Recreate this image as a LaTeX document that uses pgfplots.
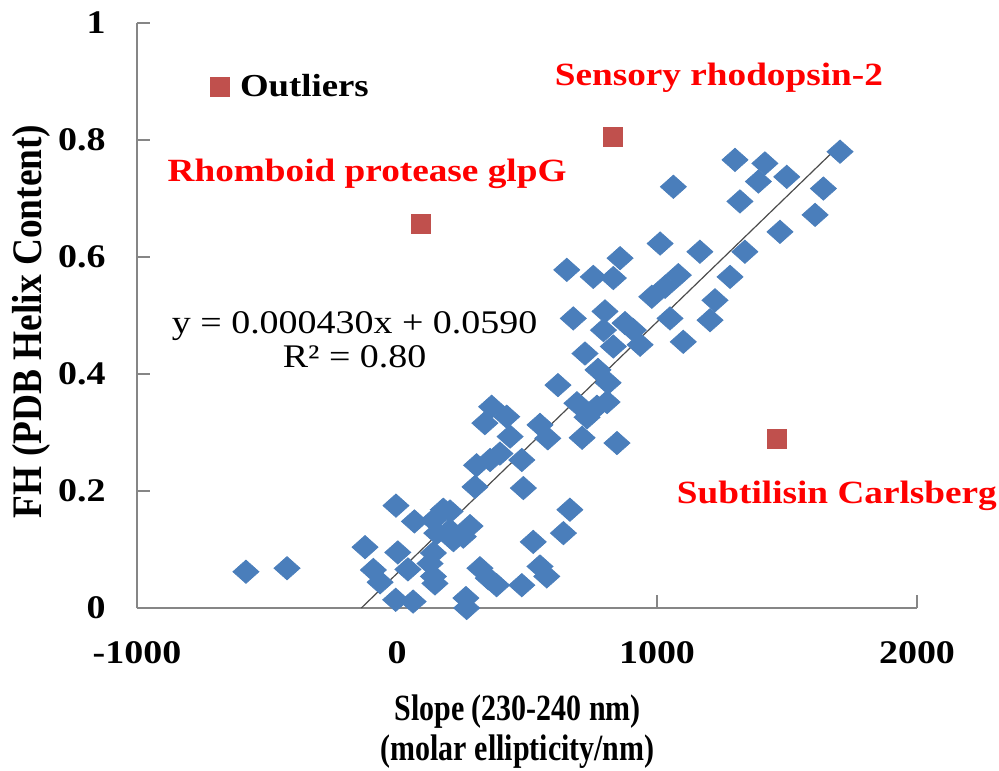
\documentclass[border=0pt]{standalone}
\usepackage{pgfplots}
\pgfplotsset{compat=1.18}
\usepackage{fontspec}
\setmainfont{Liberation Serif}[FakeStretch=1.15]
\newfontfamily\ylabfont{Liberation Serif}[FakeStretch=0.89]
\newfontfamily\xlabfont{Liberation Serif}[FakeStretch=0.81]
\definecolor{ptblue}{RGB}{74,126,187}
\definecolor{ptred}{RGB}{192,80,77}
\definecolor{axgray}{RGB}{134,134,134}
\pgfplotsset{oneleg/.style={legend image code/.code={\draw[##1] plot coordinates {(5pt,0pt)}; \node[draw=none, fill=none, inner sep=0pt, minimum size=0pt] at (13pt,0pt) {};}}}
\pgfplotstableread{
x y
-581 0.062
-423 0.068
-123 0.104
-91 0.065
-65 0.044
-4 0.175
3 0.095
42 0.066
67 0.148
-5 0.014
62 0.011
140 0.150
204 0.165
178 0.168
153 0.128
217 0.116
281 0.140
255 0.122
140 0.094
127 0.076
146 0.042
140 0.054
265 0.017
268 0.000
204 0.133
306 0.244
358 0.253
300 0.207
480 0.253
486 0.205
524 0.113
319 0.068
351 0.051
383 0.039
480 0.039
550 0.071
576 0.054
364 0.344
422 0.327
338 0.316
550 0.313
580 0.290
435 0.293
396 0.264
665 0.168
640 0.128
619 0.381
692 0.350
769 0.344
808 0.352
731 0.326
773 0.407
812 0.385
712 0.291
846 0.282
723 0.435
832 0.447
653 0.578
755 0.566
858 0.598
832 0.564
678 0.495
800 0.507
794 0.475
877 0.487
909 0.475
935 0.450
1050 0.495
1101 0.455
980 0.532
1031 0.549
1082 0.569
1012 0.623
1165 0.609
1338 0.609
1281 0.566
1223 0.526
1204 0.492
1063 0.720
1300 0.766
1415 0.760
1390 0.729
1499 0.737
1319 0.695
1704 0.780
1640 0.717
1608 0.672
1473 0.643
}\maindata
\pgfplotstableread{
x y
92 0.656
831 0.805
1462 0.289
}\outliers
\begin{document}
\begin{tikzpicture}
\useasboundingbox (-68.5pt,-81pt) rectangle (431pt,304pt);
\begin{axis}[
  width=390pt, height=292.5pt, scale only axis,
  xmin=-1000, xmax=2000, ymin=0, ymax=1,
  axis x line*=bottom, axis y line*=left,
  axis line style={axgray, line width=0.9pt, -},
  xtick={-1000,0,1000,2000}, xticklabels={-1000,0,1000,2000},
  ytick={0,0.2,0.4,0.6,0.8,1}, yticklabels={0,0.2,0.4,0.6,0.8,1},
  tick align=inside, major tick length=6.5pt,
  tick style={axgray, line width=0.8pt},
  ticklabel style={font=\fontsize{16.5}{18}\selectfont\bfseries, text=black},
  xticklabel style={anchor=center, yshift=-22.5pt},
  yticklabel style={anchor=east, inner sep=0pt, xshift=-15.5pt},
  xlabel={Slope (230-240 nm)\\(molar ellipticity/nm)},
  xlabel style={at={(axis description cs:0.488,0)}, anchor=center, yshift=-62pt, align=center, font=\xlabfont\fontsize{18.5}{20}\selectfont\bfseries},
  ylabel={FH (PDB Helix Content)},
  ylabel style={at={(axis description cs:-0.135,0.49)}, anchor=center, font=\ylabfont\fontsize{21}{24}\selectfont\bfseries},
  clip=false,
  legend style={at={(0.0936,0.8906)}, anchor=west, draw=none, fill=none, inner sep=0pt, font=\fontsize{16}{18}\selectfont\bfseries},
]
\addplot[only marks, mark=square*, mark size=4.1pt, mark options={fill=ptblue, draw=ptblue, line width=0.4pt, xscale=1.12, rotate=45}, forget plot] table {\maindata};
\addplot[no marks, color=black!70, line width=0.6pt, forget plot] coordinates {(-137,0.0001) (1704,0.7917)};
\addplot[only marks, mark=square*, mark size=4.8pt, mark options={fill=ptred, draw=ptred, line width=0.4pt}, oneleg] table {\outliers};
\addlegendentry{Outliers}
\node[text=red, font=\fontsize{16.2}{18}\selectfont\bfseries] at (axis cs:1238,0.906) {Sensory rhodopsin-2};
\node[text=red, font=\fontsize{16.2}{18}\selectfont\bfseries] at (axis cs:-115,0.742) {Rhomboid protease glpG};
\node[text=red, font=\fontsize{16.2}{18}\selectfont\bfseries] at (axis cs:1692,0.192) {Subtilisin Carlsberg};
\node[align=center, font=\fontsize{16.5}{17}\selectfont] at (axis cs:-163,0.458) {y = 0.000430x + 0.0590\\R² = 0.80};
\end{axis}
\end{tikzpicture}
\end{document}
